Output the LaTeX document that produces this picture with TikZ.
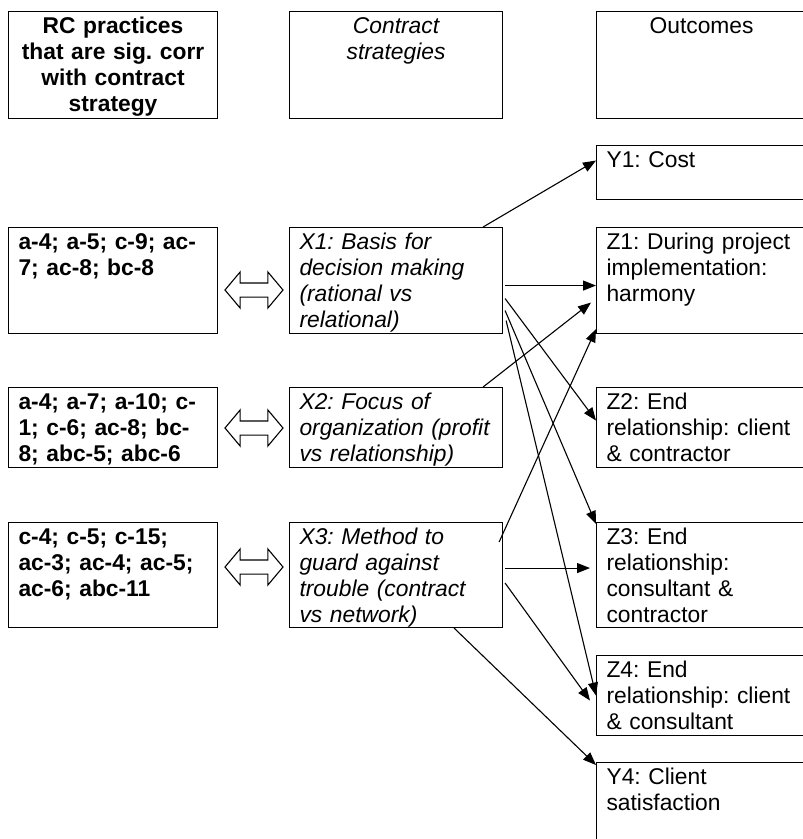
\documentclass[tikz,border=0pt]{standalone}
\usepackage{fontspec}
\setmainfont{Liberation Sans}
\frenchspacing
\usetikzlibrary{arrows.meta,shapes.arrows}

\begin{document}
\begin{tikzpicture}[x=1pt,y=-1pt,
        cell/.style={draw,line width=1.1pt,anchor=north west,inner xsep=10pt,inner ysep=5pt,text height=17pt,align=left,font=\fontsize{22.8}{26}\selectfont},
        lcol/.style={cell,text width=189pt,font=\fontsize{22.8}{26}\selectfont\bfseries},
        mcol/.style={cell,text width=193pt,font=\fontsize{22.8}{26}\selectfont\itshape},
        rcol/.style={cell,text width=190pt},
        dbl/.style={double arrow,draw,line width=1.1pt,minimum height=58pt,minimum width=0pt,text height=13pt,text depth=0pt,inner sep=0pt,double arrow head extend=11pt,double arrow tip angle=100},
        link/.style={-{Triangle[length=13pt,width=10pt]},line width=1.1pt}]
        \useasboundingbox (0,0) rectangle (803,839);

        % column heads
        \node [lcol,align=center,text depth=80pt] (h1) at (8,11) {RC practices\\that are sig. corr\\with contract\\strategy};
        \node [mcol,align=center,text depth=80pt] (h2) at (289,11) {Contract\\strategies};
        \node [rcol,align=center,text depth=80pt] (h3) at (596,11) {Outcomes};

        \node [lcol,text depth=79pt] (a1) at (8,227) {a-4; a-5; c-9; ac-\\7; ac-8; bc-8};
        \node [lcol,text depth=53pt] (a2) at (8,387) {a-4; a-7; a-10; c-\\1; c-6; ac-8; bc-\\8; abc-5; abc-6};
        \node [lcol,text depth=78pt] (a3) at (8,522) {c-4; c-5; c-15;\\ac-3; ac-4; ac-5;\\ac-6; abc-11};

        \node [mcol,text depth=79pt] (x1) at (289,227) {X1: Basis for\\decision making\\(rational vs\\relational)};
        \node [mcol,text depth=53pt] (x2) at (289,387) {X2: Focus of\\organization (profit\\vs relationship)};
        \node [mcol,text depth=78pt] (x3) at (289,522) {X3: Method to\\guard against\\trouble (contract\\vs network)};

        \node [rcol,text depth=27pt] (y1) at (596,145) {Y1: Cost};
        \node [rcol,text depth=79pt] (z1) at (596,227) {Z1: During project\\implementation:\\harmony};
        \node [rcol,text depth=53pt] (z2) at (596,387) {Z2: End\\relationship: client\\\& contractor};
        \node [rcol,text depth=78pt] (z3) at (596,522) {Z3: End\\relationship:\\consultant \&\\contractor};
        \node [rcol,text depth=53pt] (z4) at (596,655) {Z4: End\\relationship: client\\\& consultant};
        \node [rcol,text depth=61pt] (y4) at (596,762) {Y4: Client\\satisfaction};

        \node [dbl] (d1) at (254,290) {};
        \node [dbl] (d2) at (254,428) {};
        \node [dbl] (d3) at (254,567) {};

        % strategy -> outcome
        \draw [link] ([xshift=-20pt]x1.north east) -- ([yshift=12pt]y1.west);
        \draw [link] ([xshift=2pt,yshift=-5pt]x1.east) -- ([yshift=-5pt]z1.west);
        \draw [link] ([xshift=2pt,yshift=-18pt]x1.east) -- ([yshift=7pt]z2.west);
        \draw [link] ([xshift=2pt,yshift=-30pt]x1.east) -- ([yshift=-2pt]z3.north west);
        \draw [link] ([xshift=3pt,yshift=-40pt]x1.east) -- (z4.west);
        \draw [link] ([xshift=-20pt]x2.north east) -- ([xshift=-5pt,yshift=-22pt]z1.west);
        \draw [link] ([xshift=-4pt,yshift=-20pt]x3.north east) -- ([yshift=5pt]z1.south west);
        \draw [link] ([xshift=2pt,yshift=7pt]x3.east) -- ([xshift=-6pt,yshift=7pt]z3.west);
        \draw [link] ([xshift=2pt,yshift=-8pt]x3.east) -- ([xshift=-6pt,yshift=-5pt]z4.west);
        \draw [link] ([xshift=-49pt]x3.south east) -- ([yshift=-3pt]y4.north west);
    \end{tikzpicture}
\end{document}
